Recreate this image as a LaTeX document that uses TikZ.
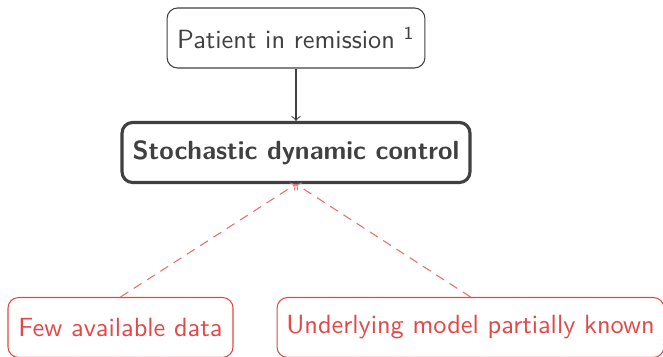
\documentclass[tikz,border=0pt]{standalone}
\usepackage{fontspec}
\usetikzlibrary{arrows}
\definecolor{TextGray}{RGB}{64,64,64}
\definecolor{AlertRed}{RGB}{226,72,72}

\tikzset{
    box/.style={rounded corners=4pt, align=center, inner sep=0pt, minimum height=22.8pt},
    goalbox/.style={box, draw=TextGray, text=TextGray, line width=0.4pt},
    ctrlbox/.style={box, draw=TextGray, text=TextGray, line width=1.2pt, font=\sffamily\bfseries},
    issuebox/.style={box, draw=AlertRed, text=AlertRed, line width=0.4pt},
    issuelink/.style={->, AlertRed!80, dash pattern=on 3.5pt off 2.5pt, line width=0.4pt}
}

\begin{document}
\begin{tikzpicture}[->,>=to, x=0.38pt, y=-0.38pt, font=\sffamily]
    \useasboundingbox (0,0) rectangle (663,357);

    % Draw the goal and the control problem
    \node[goalbox, minimum width=98pt] (goal) at (296,38) {Patient in remission \textsuperscript{1}};
    \node[ctrlbox, minimum width=132.2pt] (ctrl) at (296,152.5) {Stochastic dynamic control};
    \draw[TextGray, line width=0.4pt] (goal) -- (ctrl);

    % Draw the difficulties
    \node[issuebox, minimum width=85.5pt] (few) at (120.5,327.5) {Few available data};
    \node[issuebox, minimum width=147pt] (model) at (470.5,327.5) {Underlying model partially known};

    % Draw the dashed links up to the control problem
    \foreach \src in {few, model}{
        \draw[issuelink] (\src.north) -- (ctrl.south);
    }
\end{tikzpicture}
\end{document}
